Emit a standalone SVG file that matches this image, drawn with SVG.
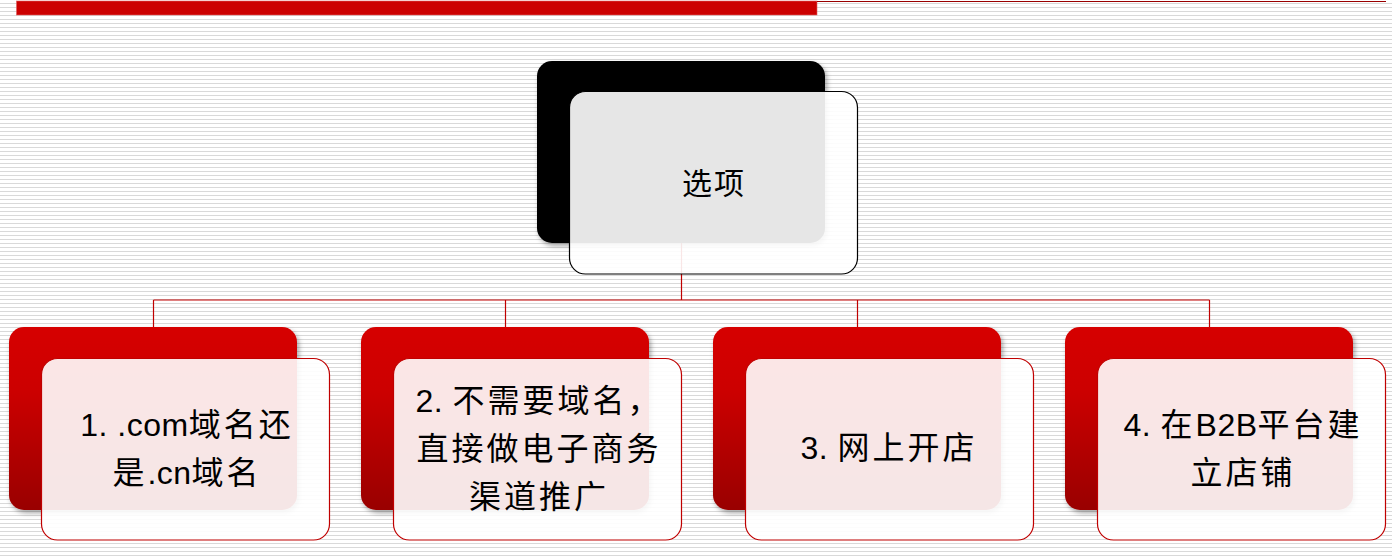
<svg xmlns="http://www.w3.org/2000/svg" width="1392" height="556" viewBox="0 0 1392 556">
  <defs>
    <pattern id="stripes" x="0" y="0" width="8" height="4" patternUnits="userSpaceOnUse">
      <rect x="0" y="3" width="8" height="1" fill="#d9d9d9"/>
    </pattern>
    <linearGradient id="redGrad" x1="0" y1="0" x2="0" y2="1">
      <stop offset="0" stop-color="#d60000"/>
      <stop offset="0.35" stop-color="#cc0000"/>
      <stop offset="1" stop-color="#990000"/>
    </linearGradient>
    <filter id="shadow" x="-10%" y="-10%" width="125%" height="130%">
      <feDropShadow dx="2" dy="3" stdDeviation="2.5" flood-color="#000" flood-opacity="0.35"/>
    </filter>
    <style>
      .back-black { fill: #000000; filter: url(#shadow); }
      .back-red { fill: url(#redGrad); filter: url(#shadow); }
      .front { fill: #ffffff; fill-opacity: 0.9; stroke-width: 1.2; }
      .front-top { stroke: #000000; }
      .front-red { stroke: #c00000; }
      .conn { fill: none; stroke: #c00000; stroke-width: 1.2; }
      .label { font-family: "Liberation Sans", "Noto Sans CJK SC", sans-serif; font-size: 32px; fill: #000000; text-anchor: middle; letter-spacing: 3px; }
      .lat { letter-spacing: 0.5px; }
      .title { font-family: "Noto Sans CJK SC", sans-serif; font-size: 30px; fill: #000000; text-anchor: middle; letter-spacing: 2px; }
    </style>
  </defs>

  <!-- background -->
  <rect x="0" y="0" width="1392" height="556" fill="#ffffff"/>
  <rect x="0" y="0" width="1392" height="556" fill="url(#stripes)"/>
  <rect x="16.5" y="1" width="800.5" height="14" fill="#cc0000" stroke="#e06060" stroke-width="0.6"/>
  <line x1="817" y1="1.5" x2="1386" y2="1.5" stroke="#9a0000" stroke-width="1.2"/>

  <!-- connectors -->
  <g id="connectors">
    <path class="conn" d="M681.5 243 V300"/>
    <path class="conn" d="M153.5 300 H1209.5"/>
    <path class="conn" d="M153.5 300 V327"/>
    <path class="conn" d="M505.5 300 V327"/>
    <path class="conn" d="M857.5 300 V327"/>
    <path class="conn" d="M1209.5 300 V327"/>
  </g>

  <!-- top node -->
  <g id="node-root">
    <rect class="back-black" x="537" y="61" width="288" height="182" rx="15" ry="15"/>
    <rect class="front front-top" x="569.5" y="91.5" width="288" height="182.5" rx="16" ry="16"/>
    <text class="title" x="714" y="194">选项</text>
  </g>

  <!-- node 1 -->
  <g id="node-1">
    <rect class="back-red" x="9" y="327" width="288" height="183" rx="15" ry="15"/>
    <rect class="front front-red" x="41.5" y="358.5" width="288" height="181.5" rx="16" ry="16"/>
    <text class="label" x="187" y="436"><tspan class="lat">1. .com</tspan>域名还</text>
    <text class="label" x="187" y="484">是<tspan class="lat">.cn</tspan>域名</text>
  </g>

  <!-- node 2 -->
  <g id="node-2">
    <rect class="back-red" x="361" y="327" width="288" height="183" rx="15" ry="15"/>
    <rect class="front front-red" x="393.5" y="358.5" width="288" height="181.5" rx="16" ry="16"/>
    <text class="label" x="539" y="412"><tspan class="lat">2. </tspan>不需要域名，</text>
    <text class="label" x="539" y="460">直接做电子商务</text>
    <text class="label" x="539" y="508">渠道推广</text>
  </g>

  <!-- node 3 -->
  <g id="node-3">
    <rect class="back-red" x="713" y="327" width="288" height="183" rx="15" ry="15"/>
    <rect class="front front-red" x="745.5" y="358.5" width="288" height="181.5" rx="16" ry="16"/>
    <text class="label" x="889" y="459"><tspan class="lat">3. </tspan>网上开店</text>
  </g>

  <!-- node 4 -->
  <g id="node-4">
    <rect class="back-red" x="1065" y="327" width="288" height="183" rx="15" ry="15"/>
    <rect class="front front-red" x="1097.5" y="358.5" width="288" height="181.5" rx="16" ry="16"/>
    <text class="label" x="1243" y="436"><tspan class="lat">4. </tspan>在<tspan class="lat">B2B</tspan>平台建</text>
    <text class="label" x="1243" y="484">立店铺</text>
  </g>
</svg>
